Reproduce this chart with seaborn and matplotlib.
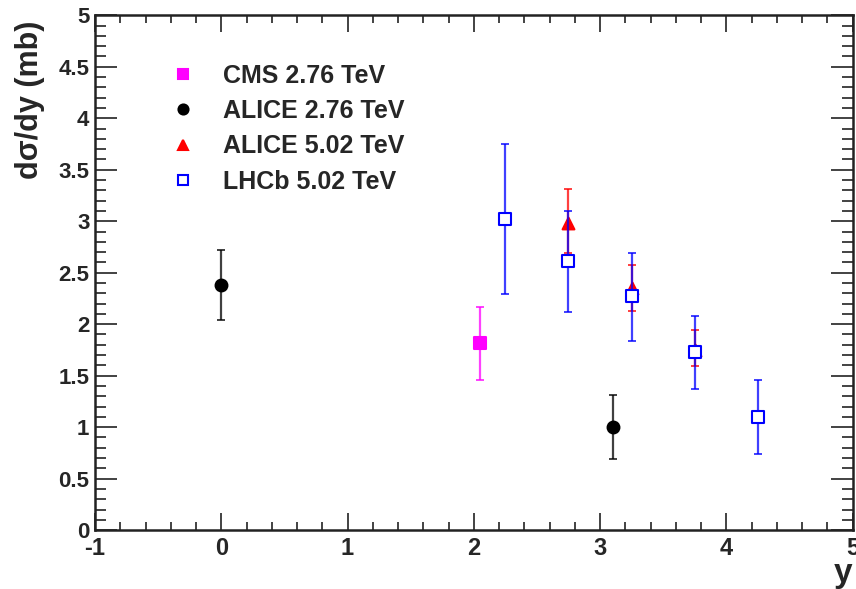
import numpy as np
import pandas as pd
import matplotlib.pyplot as plt
import seaborn as sns
from matplotlib.ticker import MultipleLocator, FormatStrFormatter

# data: rapidity, dsigma/dy and lower/upper error bar ends (mb)
cms_y = [2.05]
cms_val = [1.82]
cms_lo = [1.46]
cms_hi = [2.17]

alice276_y = [0.0, 3.1]
alice276_val = [2.38, 1.00]
alice276_lo = [2.04, 0.69]
alice276_hi = [2.72, 1.31]

alice502_y = [2.75, 3.25, 3.75]
alice502_val = [2.98, 2.35, 1.75]
alice502_lo = [2.69, 2.13, 1.59]
alice502_hi = [3.31, 2.57, 1.94]

lhcb_y = [2.25, 2.75, 3.25, 3.75, 4.25]
lhcb_val = [3.02, 2.61, 2.27, 1.73, 1.10]
lhcb_lo = [2.29, 2.12, 1.84, 1.37, 0.74]
lhcb_hi = [3.75, 3.10, 2.69, 2.08, 1.46]

sns.set_style("ticks")
plt.rcParams['font.family'] = ['Liberation Sans', 'DejaVu Sans']
plt.rcParams['font.weight'] = 'bold'

fig = plt.figure(figsize=(8.56, 5.89), dpi=100)
ax = fig.add_axes([0.111, 0.100, 0.885, 0.874])

series = [
    ("CMS 2.76 TeV", cms_y, cms_val, cms_lo, cms_hi, "#ff00ff", "s", "#ff00ff", 8),
    ("ALICE 2.76 TeV", alice276_y, alice276_val, alice276_lo, alice276_hi, "black", "o", "black", 8.5),
    ("ALICE 5.02 TeV", alice502_y, alice502_val, alice502_lo, alice502_hi, "red", "^", "red", 8.5),
    ("LHCb 5.02 TeV", lhcb_y, lhcb_val, lhcb_lo, lhcb_hi, "blue", "s", "white", 8.5),
]

handles = []
for z, (name, x, v, lo, hi, col, mk, fc, ms) in enumerate(series):
    df = pd.DataFrame({"y": x, "val": v, "lo": lo, "hi": hi})
    err = np.vstack([df["val"] - df["lo"], df["hi"] - df["val"]])
    ax.errorbar(df["y"], df["val"], yerr=err, fmt="none", ecolor=col,
                elinewidth=1.6, capsize=3, capthick=1.4, alpha=0.75, zorder=2 + 2 * z)
    sns.scatterplot(data=df, x="y", y="val", ax=ax, marker=mk, s=ms ** 2,
                    color=fc, edgecolor=col, linewidth=1.5, zorder=3 + 2 * z)
    handles.append(plt.Line2D([], [], ls="none", marker=mk, markersize=ms * 0.85,
                              markerfacecolor=fc, markeredgecolor=col,
                              markeredgewidth=1.5, label=name))

ax.set_xlim(-1, 5)
ax.set_ylim(0, 5)
ax.xaxis.set_major_locator(MultipleLocator(1))
ax.xaxis.set_minor_locator(MultipleLocator(0.2))
ax.yaxis.set_major_locator(MultipleLocator(0.5))
ax.yaxis.set_minor_locator(MultipleLocator(0.1))
ax.yaxis.set_major_formatter(FormatStrFormatter("%g"))
ax.xaxis.set_major_formatter(FormatStrFormatter("%g"))

ax.tick_params(axis="both", which="both", direction="in", top=True, right=True,
               color="#222222")
ax.tick_params(axis="y", which="major", length=16, width=1.2, pad=4, labelsize=16)
ax.tick_params(axis="y", which="minor", length=8, width=1.2)
ax.tick_params(axis="x", which="major", length=12, width=1.2, pad=5, labelsize=17)
ax.tick_params(axis="x", which="minor", length=6, width=1.2)
for lab in ax.get_xticklabels() + ax.get_yticklabels():
    lab.set_fontweight("bold")
for sp in ax.spines.values():
    sp.set_linewidth(1.8)
    sp.set_color("#222222")

ax.set_ylabel("d\u03c3/dy (mb)", fontsize=22, fontweight="bold", loc="top")
ax.yaxis.set_label_coords(-0.066, 0.99)
ax.set_xlabel("y", fontsize=24, fontweight="bold", loc="right")
ax.xaxis.set_label_coords(1.0, -0.055)

ax.legend(handles=handles, loc="upper left", bbox_to_anchor=(0.07, 0.925),
          frameon=False, prop={"size": 18, "weight": "bold"},
          handletextpad=0.6, labelspacing=0.45, borderaxespad=0)

plt.savefig("out.png", dpi=100)
